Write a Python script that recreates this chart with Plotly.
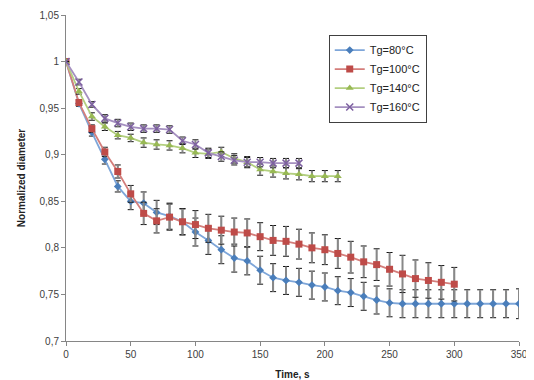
import plotly.graph_objects as go

t80 = list(range(0, 351, 10))
y80 = [1.0, 0.955, 0.924, 0.895, 0.866, 0.850, 0.848, 0.838, 0.834, 0.828, 0.817, 0.808, 0.798,
       0.789, 0.786, 0.776, 0.768, 0.765, 0.763, 0.760, 0.758, 0.754, 0.752, 0.748, 0.744,
       0.741, 0.740, 0.740, 0.740, 0.740, 0.740, 0.740, 0.740, 0.740, 0.740, 0.740]
e80 = [0.0, 0.003, 0.004, 0.005, 0.006, 0.009, 0.012, 0.013, 0.014, 0.014, 0.015, 0.015, 0.015,
       0.015, 0.015, 0.015, 0.015, 0.015, 0.015, 0.015, 0.015, 0.015, 0.015, 0.015, 0.015,
       0.015, 0.015, 0.015, 0.015, 0.015, 0.015, 0.015, 0.015, 0.015, 0.015, 0.016]

t100 = list(range(0, 301, 10))
y100 = [1.0, 0.956, 0.928, 0.903, 0.882, 0.858, 0.837, 0.829, 0.833, 0.828, 0.825, 0.821, 0.819,
        0.817, 0.816, 0.812, 0.808, 0.807, 0.804, 0.800, 0.798, 0.794, 0.790, 0.785, 0.782,
        0.777, 0.772, 0.767, 0.765, 0.763, 0.761]
e100 = [0.0, 0.003, 0.004, 0.005, 0.007, 0.009, 0.012, 0.013, 0.014, 0.014, 0.015, 0.015, 0.015,
        0.015, 0.015, 0.015, 0.016, 0.016, 0.016, 0.016, 0.016, 0.016, 0.017, 0.017, 0.017,
        0.018, 0.020, 0.020, 0.019, 0.018, 0.018]

t140 = list(range(0, 211, 10))
y140 = [1.0, 0.968, 0.941, 0.930, 0.921, 0.918, 0.913, 0.911, 0.910, 0.907, 0.902, 0.901, 0.903,
        0.896, 0.892, 0.884, 0.882, 0.880, 0.879, 0.877, 0.877, 0.877]
e140 = [0.0, 0.003, 0.004, 0.004, 0.004, 0.004, 0.005, 0.005, 0.005, 0.005, 0.005, 0.005, 0.005,
        0.005, 0.006, 0.006, 0.006, 0.006, 0.006, 0.006, 0.006, 0.006]

t160 = list(range(0, 181, 10))
y160 = [1.0, 0.978, 0.954, 0.939, 0.934, 0.930, 0.928, 0.928, 0.927, 0.915, 0.911, 0.902, 0.898,
        0.894, 0.892, 0.892, 0.891, 0.891, 0.891]
e160 = [0.0, 0.003, 0.003, 0.004, 0.004, 0.004, 0.004, 0.004, 0.004, 0.004, 0.005, 0.005, 0.005,
        0.005, 0.005, 0.005, 0.005, 0.005, 0.005]

series = [
    ("Tg=80°C", t80, y80, e80, "#4A7EBB", "#7EA6D9", "diamond", 6),
    ("Tg=100°C", t100, y100, e100, "#BE4B48", "#D47E7B", "square", 7),
    ("Tg=140°C", t140, y140, e140, "#98B954", "#B3CF80", "triangle-up", 7),
    ("Tg=160°C", t160, y160, e160, "#7D60A0", "#A590C0", "x-thin", 7),
]

fig = go.Figure()
for name, t, y, e, mc, lc, sym, sz in series:
    fig.add_trace(go.Scatter(x=t, y=y, mode="markers", marker=dict(size=0.1, opacity=0),
                             error_y=dict(type="data", array=e, color="#111", thickness=1, width=3),
                             showlegend=False, hoverinfo="skip"))
    fig.add_trace(go.Scatter(x=t, y=y, mode="markers", marker=dict(size=0.1, opacity=0),
                             error_y=dict(type="data", array=e, color="#888", thickness=2, width=0),
                             showlegend=False, hoverinfo="skip"))
    mk = dict(symbol=sym, size=sz, color=mc)
    if sym == "x-thin":
        mk["line"] = dict(color=mc, width=1.5)
    fig.add_trace(go.Scatter(x=t, y=y, mode="lines+markers", name=name,
                             line=dict(color=lc, width=1.8), marker=mk))

# page body has an 8px margin; size the figure to fit the 534x380 window
fig.update_layout(
    width=526, height=372,
    margin=dict(l=58, r=15, t=7, b=39),
    paper_bgcolor="white", plot_bgcolor="white",
    separators=", ",
    font=dict(family="Liberation Sans, Arial, sans-serif", size=10, color="#404040"),
    showlegend=True,
    legend=dict(x=0.58, y=0.94, xanchor="left", yanchor="top",
                bordercolor="#404040", borderwidth=1, bgcolor="white",
                font=dict(size=11, color="#222"), itemwidth=30),
    xaxis=dict(range=[0, 350], dtick=50, showgrid=False, zeroline=False, automargin=False,
               showline=True, linecolor="#868686", linewidth=1,
               ticks="outside", ticklen=4, tickcolor="#868686",
               title=dict(text="<b>Time, s</b>", font=dict(size=10, color="#222"), standoff=14)),
    yaxis=dict(range=[0.7, 1.05], dtick=0.05, showgrid=False, zeroline=False, automargin=False,
               showline=True, linecolor="#868686", linewidth=1,
               ticks="outside", ticklen=4, tickcolor="#868686",
               title=dict(text="<b>Normalized diameter</b>", font=dict(size=10, color="#222"), standoff=12)),
)

fig.write_html("out.html")
